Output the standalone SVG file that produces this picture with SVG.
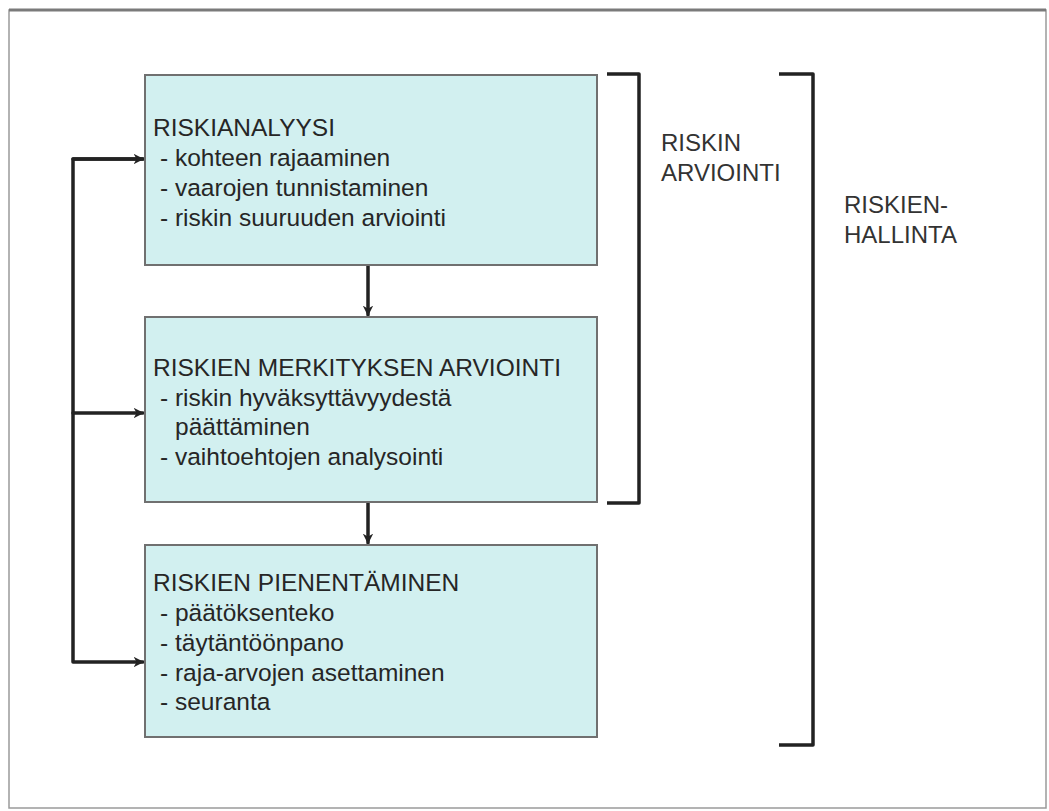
<svg xmlns="http://www.w3.org/2000/svg" width="1049" height="811" viewBox="0 0 1049 811">
<style>
.box{fill:#d2f0f0;stroke:#707070;stroke-width:2}
.t{font-family:"Liberation Sans",Arial,sans-serif;font-size:24.5px;fill:#262626}
.lbl{font-family:"Liberation Sans",Arial,sans-serif;font-size:24px;fill:#333}
.con{fill:none;stroke:#222;stroke-width:3.5;stroke-linejoin:round;stroke-linecap:round}
.br{fill:none;stroke:#222;stroke-width:3.5;stroke-linejoin:round}
</style>
<defs>
<marker id="ah" viewBox="0 0 10 10" refX="9" refY="5" markerWidth="3" markerHeight="3" orient="auto" markerUnits="strokeWidth">
<path d="M0,0 L10,5 L0,10 L3,5 Z" fill="#222"/>
</marker>
</defs>
<rect x="0" y="0" width="1049" height="811" fill="#fff"/>
<g id="frame">
<rect x="9" y="10" width="1037" height="798" fill="none" stroke="#9a9a9a" stroke-width="1.5"/>
<line x1="9" y1="10" x2="1046" y2="10" stroke="#7a7a7a" stroke-width="3"/>
</g>
<g id="connectors">
<line class="con" x1="368" y1="266" x2="368" y2="315" marker-end="url(#ah)"/>
<line class="con" x1="368" y1="503" x2="368" y2="543" marker-end="url(#ah)"/>
<path class="con" d="M143,159 H73 V662 H143" marker-end="url(#ah)"/>
<path class="con" d="M73,159 H143" marker-end="url(#ah)"/>
<path class="con" d="M73,413 H143" marker-end="url(#ah)"/>
</g>
<g id="riskianalyysi">
<rect class="box" x="145" y="75" width="452" height="190"/>
<text class="t" x="153" y="136">RISKIANALYYSI</text>
<text class="t" x="160" y="166">- kohteen rajaaminen</text>
<text class="t" x="160" y="196">- vaarojen tunnistaminen</text>
<text class="t" x="160" y="226">- riskin suuruuden arviointi</text>
</g>
<g id="merkitys">
<rect class="box" x="145" y="317" width="452" height="185"/>
<text class="t" x="153" y="376">RISKIEN MERKITYKSEN ARVIOINTI</text>
<text class="t" x="160" y="406">- riskin hyväksyttävyydestä</text>
<text class="t" x="175" y="435">päättäminen</text>
<text class="t" x="160" y="465">- vaihtoehtojen analysointi</text>
</g>
<g id="pienentaminen">
<rect class="box" x="145" y="545" width="452" height="192"/>
<text class="t" x="153" y="591">RISKIEN PIENENTÄMINEN</text>
<text class="t" x="160" y="621">- päätöksenteko</text>
<text class="t" x="160" y="651">- täytäntöönpano</text>
<text class="t" x="160" y="681">- raja-arvojen asettaminen</text>
<text class="t" x="160" y="710">- seuranta</text>
</g>
<g id="riskin-arviointi">
<path class="br" d="M607,74 H639 V503 H607"/>
<text class="lbl" x="661" y="151">RISKIN</text>
<text class="lbl" x="661" y="181">ARVIOINTI</text>
</g>
<g id="riskienhallinta">
<path class="br" d="M779,74 H813 V745 H779"/>
<text class="lbl" x="844" y="213">RISKIEN-</text>
<text class="lbl" x="844" y="243">HALLINTA</text>
</g>
</svg>
